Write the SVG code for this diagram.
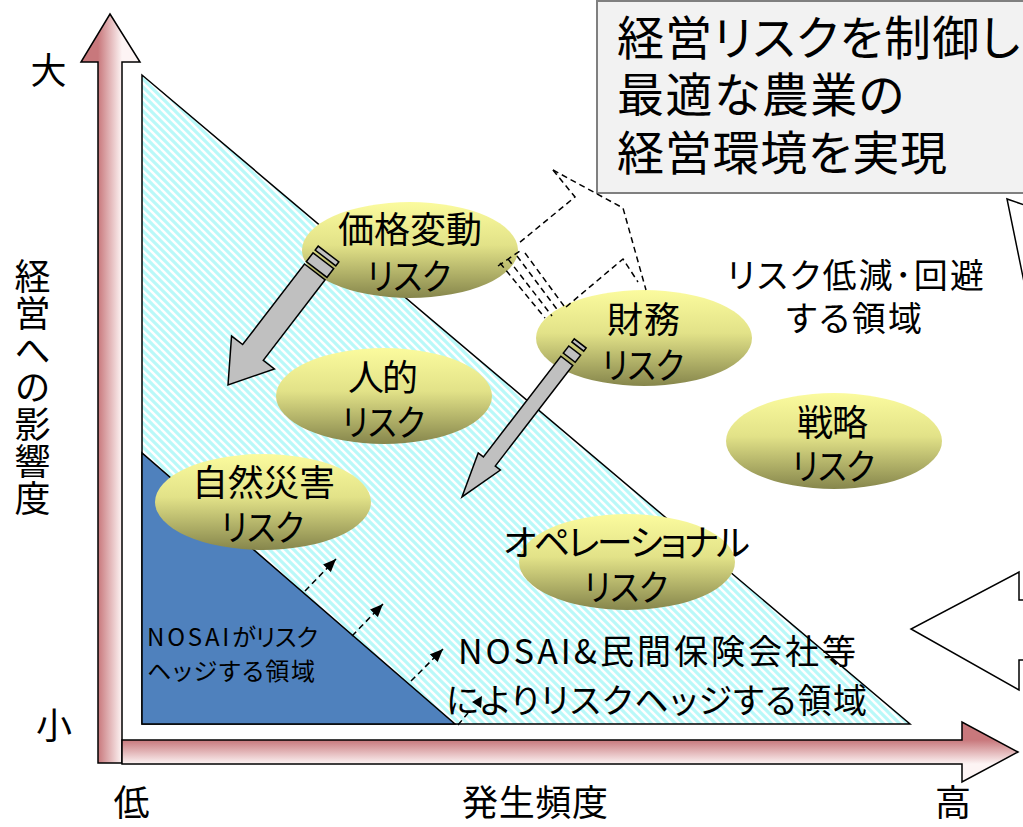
<svg xmlns="http://www.w3.org/2000/svg" width="1023" height="827" viewBox="0 0 1023 827">
<style>
.jp{font-family:"Noto Sans CJK JP","Noto Sans",sans-serif;fill:#000;font-feature-settings:"palt";}
.jpv{font-family:"Noto Sans CJK JP","Noto Sans",sans-serif;fill:#000;writing-mode:vertical-rl;}
.dash{fill:none;stroke:#000;stroke-width:1.5;stroke-dasharray:6 4;}
.arr{fill:none;stroke:#000;stroke-width:1.5;stroke-dasharray:6 4;marker-end:url(#ah);}
.gray{fill:#c0c0c0;stroke:#000;stroke-width:1.5;}
.ell{fill:url(#yg);}
.tri{stroke:#000;stroke-width:1.5;}
</style>
<defs>
<linearGradient id="yg" x1="0" y1="0" x2="0" y2="1">
<stop offset="0" stop-color="#fbfb9e"/>
<stop offset="0.45" stop-color="#e2e288"/>
<stop offset="1" stop-color="#86864c"/>
</linearGradient>
<linearGradient id="vg" gradientUnits="userSpaceOnUse" x1="98" y1="0" x2="122" y2="0">
<stop offset="0" stop-color="#c8787c"/>
<stop offset="1" stop-color="#fdf4f4"/>
</linearGradient>
<linearGradient id="hg" gradientUnits="userSpaceOnUse" x1="0" y1="740" x2="0" y2="764">
<stop offset="0" stop-color="#c8787c"/>
<stop offset="1" stop-color="#fdf4f4"/>
</linearGradient>
<pattern id="hatch" patternUnits="userSpaceOnUse" width="8" height="8">
<rect width="8" height="8" fill="#fff"/>
<polygon points="0,0 2.2,0 8,5.8 8,8 5.8,8 0,2.2" fill="#b9f9f9"/>
<polygon points="5.8,0 8,0 8,2.2" fill="#b9f9f9"/>
<polygon points="0,5.8 2.2,8 0,8" fill="#b9f9f9"/>
</pattern>
<marker id="ah" viewBox="0 0 12 10" refX="12" refY="5" markerWidth="13" markerHeight="11" markerUnits="userSpaceOnUse" orient="auto">
<path d="M0,0 L12,5 L0,10 z" fill="#000"/>
</marker>
</defs>

<g id="axis-vertical">
<polygon points="110,14 140,62 122,62 122,763 98,763 98,62 81,62" fill="url(#vg)" stroke="#000" stroke-width="1.5"/>
</g>
<g id="axis-horizontal">
<polygon points="122,740 962,740 962,722 1018,752 962,782 962,764 122,764" fill="url(#hg)" stroke="#000" stroke-width="1.5"/>
</g>

<g id="zone-private">
<polygon class="tri" points="142,75 142,724 910,724" fill="url(#hatch)"/>
</g>
<g id="zone-nosai">
<polygon class="tri" points="142,453 142,724 455,724" fill="#4f81bd"/>
</g>

<g id="box-goal">
<rect x="597" y="1" width="440" height="192" fill="#f2f2f2" stroke="#808080" stroke-width="2"/>
<text class="jp" x="617" y="55" font-size="47" textLength="403" lengthAdjust="spacing">経営リスクを制御し</text>
<text class="jp" x="617" y="112" font-size="47" textLength="287" lengthAdjust="spacing">最適な農業の</text>
<text class="jp" x="617" y="170" font-size="47" textLength="330" lengthAdjust="spacing">経営環境を実現</text>
</g>

<g id="shape-topright">
<path d="M1030,207 L1007,199 L1024,282" fill="#fff" stroke="#000" stroke-width="1.5"/>
</g>
<g id="arrow-left-big">
<path d="M1030,600 L1019,600 L1019,572 L911,629 L1019,690 L1019,660 L1030,660" fill="#fff" stroke="#000" stroke-width="1.5"/>
</g>

<g id="node-kakaku">
<ellipse class="ell" cx="410" cy="250" rx="108" ry="48"/>
<text class="jp" x="338" y="243" font-size="36" textLength="144" lengthAdjust="spacing">価格変動</text>
<text class="jp" x="367" y="290" font-size="36" textLength="84" lengthAdjust="spacingAndGlyphs">リスク</text>
</g>
<g id="node-jinteki">
<ellipse class="ell" cx="384" cy="396" rx="108" ry="48"/>
<text class="jp" x="348" y="391" font-size="36" textLength="70" lengthAdjust="spacing">人的</text>
<text class="jp" x="342" y="436" font-size="36" textLength="83" lengthAdjust="spacingAndGlyphs">リスク</text>
</g>
<g id="node-shizen">
<ellipse class="ell" cx="263" cy="502" rx="108" ry="48"/>
<text class="jp" x="192" y="496" font-size="36" textLength="143" lengthAdjust="spacing">自然災害</text>
<text class="jp" x="221" y="541" font-size="36" textLength="83" lengthAdjust="spacingAndGlyphs">リスク</text>
</g>
<g id="node-zaimu">
<ellipse class="ell" cx="644" cy="338" rx="108" ry="48"/>
<text class="jp" x="607" y="333" font-size="36" textLength="73" lengthAdjust="spacing">財務</text>
<text class="jp" x="602" y="379" font-size="36" textLength="82" lengthAdjust="spacingAndGlyphs">リスク</text>
</g>
<g id="node-senryaku">
<ellipse class="ell" cx="834" cy="441" rx="108" ry="48"/>
<text class="jp" x="797" y="436" font-size="36" textLength="71" lengthAdjust="spacing">戦略</text>
<text class="jp" x="792" y="480" font-size="36" textLength="83" lengthAdjust="spacingAndGlyphs">リスク</text>
</g>
<g id="node-operational">
<ellipse class="ell" cx="627" cy="562" rx="108" ry="48"/>
<text class="jp" x="503" y="556" font-size="36" textLength="247" lengthAdjust="spacing">オペレーショナル</text>
<text class="jp" x="584" y="601" font-size="36" textLength="84" lengthAdjust="spacingAndGlyphs">リスク</text>
</g>

<g id="label-reduce">
<text class="jp" x="727" y="288" font-size="34" textLength="257" lengthAdjust="spacing">リスク低減･回避</text>
<text class="jp" x="786" y="331" font-size="34" textLength="136" lengthAdjust="spacing">する領域</text>
</g>
<g id="label-nosai">
<text class="jp" x="147" y="646" font-size="24" textLength="171" lengthAdjust="spacing"><tspan letter-spacing="3">NOSAI</tspan>がリスク</text>
<text class="jp" x="147" y="680" font-size="24" textLength="168" lengthAdjust="spacing">ヘッジする領域</text>
</g>
<g id="label-private">
<text class="jp" x="458" y="664" font-size="34" textLength="398" lengthAdjust="spacing">NOSAI&amp;民間保険会社等</text>
<text class="jp" x="446" y="713" font-size="34" textLength="421" lengthAdjust="spacing">によりリスクヘッジする領域</text>
</g>

<g id="axis-labels">
<text class="jp" x="48.5" y="84" font-size="36" text-anchor="middle">大</text>
<text class="jp" x="54" y="739" font-size="36" text-anchor="middle">小</text>
<text class="jp" x="131.5" y="816" font-size="36" text-anchor="middle">低</text>
<text class="jp" x="462" y="816" font-size="36" textLength="146" lengthAdjust="spacing">発生頻度</text>
<text class="jp" x="953" y="816" font-size="36" text-anchor="middle">高</text>
<text class="jpv" x="32.5" y="258" font-size="36" letter-spacing="1">経営への影響度</text>
</g>

<g id="connectors">
<g id="arrow-kakaku" transform="translate(327,256) rotate(127.5)">
<rect class="gray" x="-2.5" y="-13" width="5" height="26"/>
<rect class="gray" x="6" y="-13" width="11" height="26"/>
<path class="gray" d="M20,-13 L121.6,-13 L121.6,-27 L162.6,0 L121.6,27 L121.6,13 L20,13 Z"/>
</g>
<g id="arrow-zaimu" transform="translate(579,345) rotate(127.6)">
<rect class="gray" x="-2" y="-7.5" width="4" height="15"/>
<rect class="gray" x="7" y="-7.5" width="9" height="15"/>
<path class="gray" d="M20,-7.5 L147,-7.5 L147,-14 L191.8,0 L147,14 L147,7.5 L20,7.5 Z"/>
</g>
<polyline class="dash" points="553,170 575,197 519,243"/>
<polyline class="dash" points="553,170 623,208 646,290"/>
<polyline class="dash" points="566,307 623,259 638,282"/>
<line class="dash" x1="500" y1="263" x2="545" y2="318"/>
<line class="dash" x1="508" y1="259" x2="552" y2="316"/>
<line class="dash" x1="517" y1="256" x2="559" y2="312"/>
<line class="dash" x1="525" y1="253" x2="564" y2="306"/>
<line class="dash" x1="498" y1="266" x2="520" y2="251"/>
<line class="arr" x1="305" y1="591" x2="336" y2="559"/>
<line class="arr" x1="352" y1="636" x2="383" y2="604"/>
<line class="arr" x1="411" y1="681" x2="443" y2="649"/>
<line class="dash" x1="458" y1="725" x2="468" y2="713"/>
<polygon points="472,702 482,696 481,708" fill="#000"/>
</g>
</svg>
